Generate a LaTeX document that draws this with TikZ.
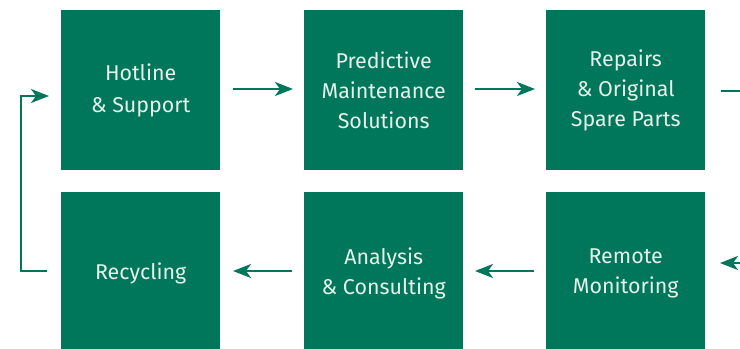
\documentclass[tikz,border=0pt]{standalone}
\usepackage{fontspec}
\setmainfont{Fira Sans}
\usetikzlibrary{arrows.meta}
\definecolor{sgreen}{HTML}{00775A}
\definecolor{stext}{HTML}{E6F1EC}
\begin{document}
\begin{tikzpicture}[x=1bp,y=-1bp,
  box/.style={fill=sgreen, draw=none, minimum width=159bp, minimum height=160bp, inner sep=0pt,
    text=stext, align=center, font=\fontsize{21.5}{30}\selectfont, anchor=north west},
  flow/.style={draw=sgreen, line width=2.2bp, -{Stealth[length=18bp,width=14bp,inset=5bp]}},
  plain/.style={draw=sgreen, line width=2.2bp}]
\path[use as bounding box] (0,0) rectangle (740,348);
\begin{scope}
\clip (0,0) rectangle (740,348);
\node[box, font=\fontsize{21.5}{32}\selectfont] (b1) at (61,10) {Hotline\\\& Support};
\node[box] (b2) at (304,10) {Predictive\\Maintenance\\Solutions};
\node[box] (b3) at (546,10) {Repairs\\\& Original\\Spare Parts};
\node[box, minimum height=162bp] (b4) at (61,192) {Recycling};
\node[box, minimum height=162bp] (b5) at (304,192) {Analysis\\\& Consulting};
\node[box, minimum height=162bp] (b6) at (546,192) {Remote\\Monitoring};
\end{scope}
\coordinate (a1s) at (233,89);  \coordinate (a1e) at (293,89);
\coordinate (a2s) at (475,89);  \coordinate (a2e) at (535,89);
\coordinate (a3s) at (721,91);  \coordinate (r1) at (740,91);
\coordinate (r2) at (740,263);  \coordinate (a4e) at (720,263);
\coordinate (a5s) at (534,271); \coordinate (a5e) at (475,271);
\coordinate (a6s) at (292,271); \coordinate (a6e) at (233,271);
\coordinate (l0) at (47,271);
\coordinate (l2) at (21,271);
\coordinate (l1) at (21,96);
\coordinate (l3) at (49,96);
\draw[flow] (a1s) -- (a1e);
\draw[flow] (a2s) -- (a2e);
\draw[plain] (a3s) -- (r1);
\draw[flow] (r2) -- (a4e);
\draw[flow] (a5s) -- (a5e);
\draw[flow] (a6s) -- (a6e);
\draw[flow] (l0) -- (l2) -- (l1) -- (l3);
\end{tikzpicture}
\end{document}
